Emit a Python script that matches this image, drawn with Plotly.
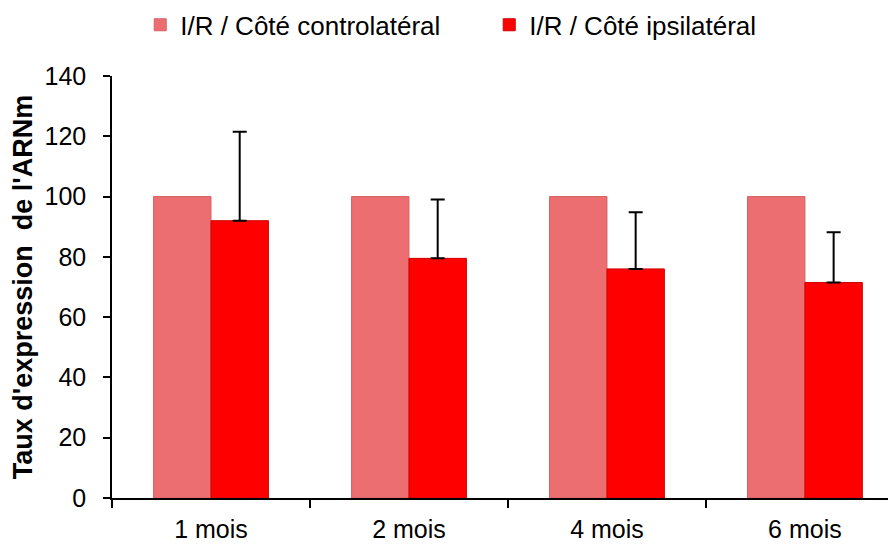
import plotly.graph_objects as go

# valeurs
periodes = ["1 mois", "2 mois", "4 mois", "6 mois"]
controlateral = [100, 100, 100, 100]
ipsilateral = [92, 79.5, 76, 71.5]
ipsi_err = [29.5, 19.5, 18.8, 16.7]

police = "Liberation Sans, Arial, sans-serif"

fig = go.Figure()
fig.add_trace(go.Bar(
    x=periodes, y=controlateral, name="I/R / Côté controlatéral",
    marker=dict(color="#EC6E70", line=dict(color="#D96062", width=1)),
))
fig.add_trace(go.Bar(
    x=periodes, y=ipsilateral, name="I/R / Côté ipsilatéral",
    marker=dict(color="#FF0000", line=dict(color="#D00000", width=1)),
    error_y=dict(type="data", symmetric=False, array=ipsi_err,
                 arrayminus=[0] * len(ipsi_err),
                 color="black", thickness=2, width=7),
))

# la page ajoute 8px de marge autour de la figure
fig.update_layout(
    width=896, height=544,
    margin=dict(l=104, r=8, t=68, b=54, autoexpand=False),
    paper_bgcolor="white", plot_bgcolor="white",
    barmode="group", bargap=0.42, bargroupgap=0,
    font=dict(family=police, size=24, color="black"),
    showlegend=True,
    legend=dict(orientation="h", x=0.036, xanchor="left",
                yref="container", y=0.969, yanchor="middle",
                font=dict(size=26), itemwidth=30, traceorder="normal",
                entrywidth=304, entrywidthmode="pixels"),
)
fig.update_xaxes(
    range=[-0.5, 3.46], showline=True, linecolor="black", linewidth=1.5,
    ticks="outside", tickson="boundaries", ticklen=8, tickcolor="black",
    tickwidth=1.5, ticklabelstandoff=8, showgrid=False,
    tickfont=dict(size=25), automargin=False,
)
fig.update_yaxes(
    range=[0, 140], dtick=20, showline=True, linecolor="black", linewidth=1.5,
    ticks="outside", ticklen=7, tickcolor="black", tickwidth=1.5,
    ticklabelstandoff=12, automargin=False,
    showgrid=False, zeroline=False, tickfont=dict(size=25),
    title=dict(text="<b>Taux d'expression  de l'ARNm</b>", font=dict(size=27), standoff=8),
)

fig.write_html("out.html")
